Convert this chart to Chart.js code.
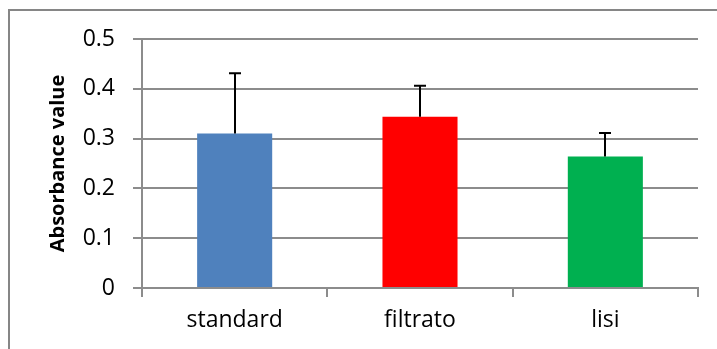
<!DOCTYPE html>
<html lang="en">
<head>
  <meta charset="UTF-8">
  <title>Absorbance</title>
  <style>
    html, body { margin: 0; padding: 0; background: #fff; }
    #wrap { width: 717px; height: 349px; }
  </style>
</head>
<body>
  <div id="wrap"><canvas id="graphic"></canvas></div>
  <script src="https://cdn.jsdelivr.net/npm/chart.js"></script>
  <script>
    // dati
    const categories = ["standard", "filtrato", "lisi"];
    const values = [0.31, 0.344, 0.264];
    const errUpper = [0.121, 0.062, 0.047];
    const barColors = ["#4F81BD", "#FF0000", "#00B050"];
    const yTicks = [0, 0.1, 0.2, 0.3, 0.4, 0.5];

    const gridColor = "#8C8C8C";
    const fontFamily = "'Open Sans', 'Noto Sans', sans-serif";

    // cornice esterna stile Excel
    const framePlugin = {
      id: "frame",
      beforeDraw(chart) {
        const ctx = chart.ctx;
        ctx.save();
        ctx.strokeStyle = "#868686";
        ctx.lineWidth = 2;
        ctx.strokeRect(9, 10, 730, 360);
        ctx.restore();
      }
    };

    // barre di errore (solo positive)
    const errorBars = {
      id: "errorBars",
      afterDatasetsDraw(chart) {
        const ctx = chart.ctx;
        const meta = chart.getDatasetMeta(0);
        const y = chart.scales.y;
        ctx.save();
        ctx.strokeStyle = "#000";
        ctx.lineWidth = 2;
        meta.data.forEach((bar, i) => {
          const x = Math.round(bar.x);
          const yTop = y.getPixelForValue(values[i] + errUpper[i]);
          ctx.beginPath();
          ctx.moveTo(x, bar.y);
          ctx.lineTo(x, yTop);
          ctx.moveTo(x - 6, yTop);
          ctx.lineTo(x + 6, yTop);
          ctx.stroke();
        });
        ctx.restore();
      }
    };

    const lienzo = document.getElementById("graphic");
    new Chart(lienzo, {
      type: "bar",
      data: {
        labels: categories,
        datasets: [{
          data: values,
          backgroundColor: barColors,
          borderWidth: 0,
          categoryPercentage: 1,
          barPercentage: 0.405
        }]
      },
      options: {
        responsive: true,
        maintainAspectRatio: false,
        animation: false,
        layout: { padding: { left: 46, right: 19, top: 39, bottom: 0 } },
        plugins: {
          legend: { display: false },
          tooltip: { enabled: false }
        },
        scales: {
          x: {
            grid: {
              drawOnChartArea: false,
              drawTicks: true,
              tickLength: 9,
              color: gridColor,
              lineWidth: 2
            },
            border: { color: gridColor, width: 2 },
            ticks: {
              color: "#000",
              font: { family: fontFamily, size: 23 },
              padding: 10
            },
            afterFit(scale) { scale.height = 61; }
          },
          y: {
            min: 0,
            max: 0.5,
            afterBuildTicks(scale) {
              scale.ticks = yTicks.map(v => ({ value: v }));
            },
            grid: {
              color: gridColor,
              lineWidth: 2,
              tickLength: 9
            },
            border: { color: gridColor, width: 2 },
            ticks: {
              color: "#000",
              font: { family: fontFamily, size: 23 },
              padding: 18,
              callback: v => String(v)
            },
            title: {
              display: true,
              text: "Absorbance value",
              color: "#000",
              font: { family: fontFamily, size: 20, weight: "bold" },
              padding: { top: 0, bottom: 6 }
            },
            afterFit(scale) { scale.width = 96; }
          }
        }
      },
      plugins: [framePlugin, errorBars]
    });
  </script>
</body>
</html>
